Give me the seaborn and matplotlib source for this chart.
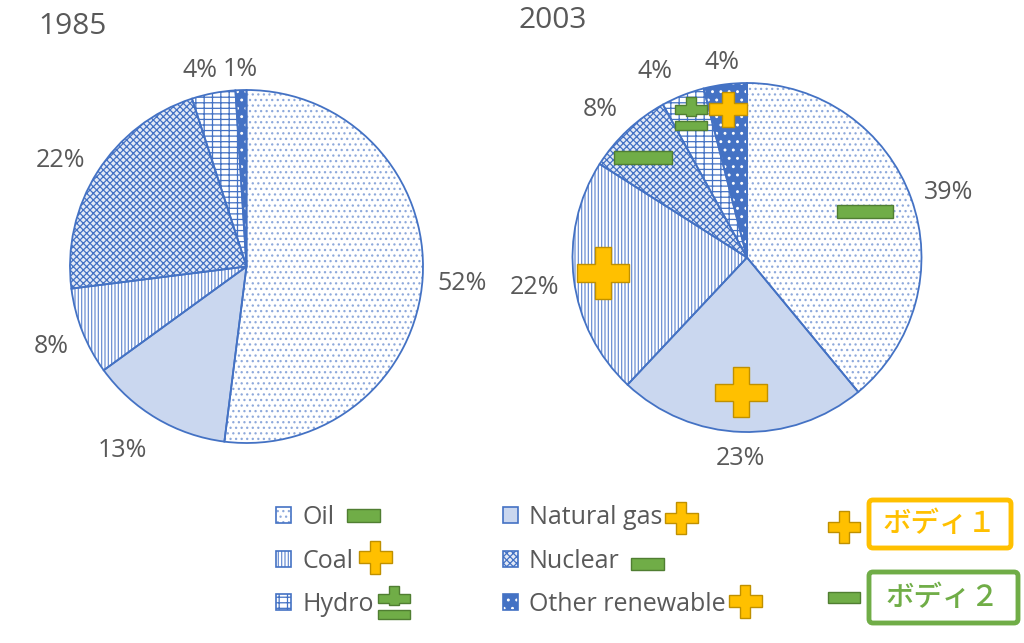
import math
import matplotlib
matplotlib.use("Agg")
import matplotlib.pyplot as plt
import seaborn as sns
from matplotlib.patches import Patch, Polygon, Rectangle, FancyBboxPatch
from matplotlib.legend_handler import HandlerTuple

# ---------------- data ----------------
categories = ["Oil", "Natural gas", "Coal", "Nuclear", "Hydro", "Other renewable"]
share_1985 = [52, 13, 8, 22, 4, 1]
share_2003 = [39, 23, 22, 8, 4, 4]
years = ["1985", "2003"]
legend_order = ["Oil", "Coal", "Hydro", "Natural gas", "Nuclear", "Other renewable"]
body_labels = ["ボディ１", "ボディ２"]

# ---------------- style ----------------
sns.set_theme(style="white")
plt.rcParams['font.family'] = ['Open Sans', 'Noto Sans CJK JP', 'DejaVu Sans']
plt.rcParams['hatch.linewidth'] = 0.9

BLUE = "#4472C4"
TEXT = "#595959"
ORANGE, ORANGE_E = "#FFC000", "#BF9000"
GREEN, GREEN_E = "#70AD47", "#507E32"
FS = 18

styles = {
    "Oil": dict(face="white", hatch="...", hcol="#8EA9DB"),
    "Natural gas": dict(face="#CAD7EF", hatch=None, hcol="#CAD7EF"),
    "Coal": dict(face="white", hatch="|||||", hcol="#6C8FD3"),
    "Nuclear": dict(face="#E4EAF6", hatch="xxxxx", hcol=BLUE),
    "Hydro": dict(face="white", hatch="---||", hcol=BLUE),
    "Other renewable": dict(face=BLUE, hatch="..", hcol="white"),
}

W, H = 1024, 643
fig = plt.figure(figsize=(W / 100, H / 100), dpi=100)
fig.patch.set_facecolor("white")
L = 1.3


def pie_axes(cx, cy, r):
    return fig.add_axes([(cx - L * r) / W, (H - cy - L * r) / H, 2 * L * r / W, 2 * L * r / H])


def draw_pie(ax, values):
    wedges, texts = ax.pie(
        values, startangle=90, counterclock=False,
        labels=[f"{v}%" for v in values], labeldistance=1.2,
        textprops=dict(color=TEXT, fontsize=FS, ha="center", va="center"),
        wedgeprops=dict(linewidth=0))
    for w, c in zip(wedges, categories):
        st = styles[c]
        w.set_facecolor(st["face"])
        w.set_edgecolor(st["hcol"])
        w.set_linewidth(0)
        if st["hatch"]:
            w.set_hatch(st["hatch"])
    ax.pie(values, startangle=90, counterclock=False,
           wedgeprops=dict(fill=False, edgecolor=BLUE, linewidth=1.3))
    ax.set_xlim(-L, L)
    ax.set_ylim(-L, L)
    ax.set_aspect("auto")
    ax.axis("off")
    return wedges, texts


R1, R2 = 176.5, 174.5
ax1 = pie_axes(246.5, 266.5, R1)
w1, t1 = draw_pie(ax1, share_1985)
ax2 = pie_axes(747, 257.5, R2)
w2, t2 = draw_pie(ax2, share_2003)

# outside-end label placement: gap from the rim plus half the text extent
fig.canvas.draw()
renderer = fig.canvas.get_renderer()
GAP = 14
DROP = 3  # px, text optical centre vs bbox centre
cap_half = FS * 100 / 72 * 0.72 / 2
label_nudge = {(0, "Natural gas"): (-17, 0), (0, "Hydro"): (-9, 0), (1, "Hydro"): (-17, 0),
               (0, "Nuclear"): (-3, 7), (1, "Oil"): (0, 5), (1, "Nuclear"): (-5, 0)}
for k, (wedges, texts, rpx) in enumerate([(w1, t1, R1), (w2, t2, R2)]):
    for wdg, txt, cat in zip(wedges, texts, categories):
        th = math.radians((wdg.theta1 + wdg.theta2) / 2)
        bb = txt.get_window_extent(renderer)
        d = rpx + GAP + abs(math.cos(th)) * bb.width / 2 + abs(math.sin(th)) * cap_half
        dx, dy = label_nudge.get((k, cat), (0, 0))
        txt.set_position((math.cos(th) * d / rpx + dx / rpx,
                          math.sin(th) * d / rpx - (dy + DROP) / rpx))

# ---------------- overlay (pixel coordinates) ----------------
ov = fig.add_axes([0, 0, 1, 1])
ov.set_xlim(0, W)
ov.set_ylim(H, 0)
ov.axis("off")
ov.patch.set_alpha(0)

ov.text(38, 27, years[0], fontsize=21.5, color=TEXT, ha="left", va="center")
ov.text(519, 21, years[1], fontsize=21.5, color=TEXT, ha="left", va="center")


def plus(cx, cy, w, h, fc=ORANGE, ec=ORANGE_E):
    tw, th = w * 0.32, h * 0.34
    pts = [(cx - tw / 2, cy - h / 2), (cx + tw / 2, cy - h / 2), (cx + tw / 2, cy - th / 2),
           (cx + w / 2, cy - th / 2), (cx + w / 2, cy + th / 2), (cx + tw / 2, cy + th / 2),
           (cx + tw / 2, cy + h / 2), (cx - tw / 2, cy + h / 2), (cx - tw / 2, cy + th / 2),
           (cx - w / 2, cy + th / 2), (cx - w / 2, cy - th / 2), (cx - tw / 2, cy - th / 2)]
    ov.add_patch(Polygon(pts, closed=True, facecolor=fc, edgecolor=ec, linewidth=1.0, zorder=5))


def minus(cx, cy, w, h, fc=GREEN, ec=GREEN_E):
    ov.add_patch(Rectangle((cx - w / 2, cy - h / 2), w, h, facecolor=fc, edgecolor=ec,
                           linewidth=1.0, zorder=5))


def plusminus(cx, cy, w, h, fc=GREEN, ec=GREEN_E):
    top = cy - h / 2
    x0, x1 = cx - w / 2, cx + w / 2
    vx0, vx1 = cx - w * 0.17, cx + w * 0.17
    y_top, y_h0, y_h1, y_vb = top, top + 0.26 * h, top + 0.52 * h, top + 0.60 * h
    pts = [(vx0, y_top), (vx1, y_top), (vx1, y_h0), (x1, y_h0), (x1, y_h1), (vx1, y_h1),
           (vx1, y_vb), (vx0, y_vb), (vx0, y_h1), (x0, y_h1), (x0, y_h0), (vx0, y_h0)]
    ov.add_patch(Polygon(pts, closed=True, facecolor=fc, edgecolor=ec, linewidth=1.0, zorder=5))
    ov.add_patch(Rectangle((x0, top + 0.73 * h), w, 0.27 * h, facecolor=fc, edgecolor=ec,
                           linewidth=1.0, zorder=5))


# symbols on the 2003 pie
plus(728, 109, 38, 35)
plus(603, 273, 52, 52)
plus(741, 392, 52, 50)
minus(865, 211, 56, 13)
minus(643, 157, 58, 13)
plusminus(691, 113, 32, 33)

# symbols next to legend entries
minus(363, 515, 33, 13)
plus(375, 557, 33, 33)
plusminus(394, 602, 32, 33)
plus(681, 518, 33, 32)
minus(647, 564, 33, 12)
plus(745, 601, 33, 33)

# key boxes
plus(844, 527, 32, 32)
minus(844, 597, 32, 11)
ov.add_patch(FancyBboxPatch((869, 500), 142, 48, boxstyle="round,pad=0,rounding_size=4",
                            facecolor="white", edgecolor=ORANGE, linewidth=3.5, zorder=5))
ov.add_patch(FancyBboxPatch((869, 572), 149, 51, boxstyle="round,pad=0,rounding_size=4",
                            facecolor="white", edgecolor=GREEN, linewidth=3.5, zorder=5))
ov.text(940, 524, body_labels[0], fontsize=20.5, color=ORANGE, ha="center", va="center",
        family=["Noto Sans CJK JP", "DejaVu Sans"], fontweight="medium", zorder=6)
ov.text(943, 598, body_labels[1], fontsize=20.5, color=GREEN, ha="center", va="center",
        family=["Noto Sans CJK JP", "DejaVu Sans"], fontweight="medium", zorder=6)

# ---------------- legend ----------------
handles = []
for c in legend_order:
    st = styles[c]
    fill = Patch(facecolor=st["face"], edgecolor=st["hcol"], hatch=st["hatch"], linewidth=0)
    edge = Patch(fill=False, edgecolor=BLUE, linewidth=1.2)
    handles.append((fill, edge))

fig.legend(handles, legend_order, handler_map={tuple: HandlerTuple(ndivide=1)},
           loc="upper left", bbox_to_anchor=(276 / W, 1 - 505 / H), ncol=2,
           frameon=False, borderpad=0, borderaxespad=0,
           handlelength=0.6, handleheight=0.6, handletextpad=0.45,
           columnspacing=5.15, labelspacing=0.74,
           prop=dict(size=FS), labelcolor=TEXT)

fig.savefig("out.png", dpi=100, facecolor="white")
